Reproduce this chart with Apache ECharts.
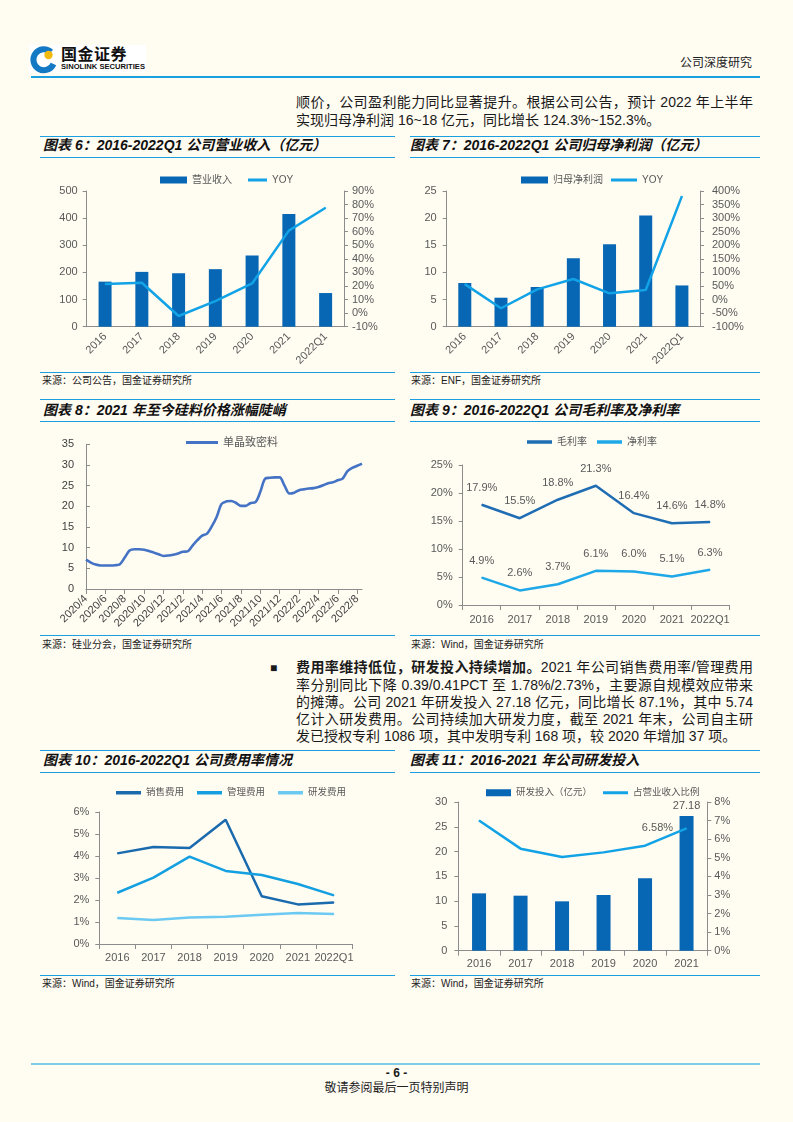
<!DOCTYPE html>
<html><head><meta charset="utf-8">
<script src="https://cdn.jsdelivr.net/npm/echarts@6/dist/echarts.min.js"></script>
<style>
html,body{margin:0;padding:0;background:#fffcf2;}
#page{position:relative;width:793px;height:1122px;background:#fffcf2;overflow:hidden;font-family:"Liberation Sans","Noto Sans CJK SC",sans-serif;color:#1a1a1a;}
.t{position:absolute;white-space:nowrap;line-height:16px;}
.hl{position:absolute;height:0;border-top:1.5px solid #1a9fe0;}
.ct{position:absolute;font-size:14px;font-weight:bold;font-style:italic;white-space:nowrap;line-height:16px;color:#111;}
.src{position:absolute;font-size:10px;white-space:nowrap;line-height:12px;color:#222;}
.chart{position:absolute;left:0;top:0;width:793px;height:1122px;}
.pl{position:absolute;left:296px;width:457px;font-size:14px;line-height:17px;text-align:justify;text-align-last:justify;white-space:nowrap;}
.pl.last{text-align-last:left;}
</style></head>
<body><div id="page">
<!-- header -->
<div style="position:absolute;left:29px;top:45px;width:117px;height:28px;background:#fff;"></div>
<svg style="position:absolute;left:29px;top:45px" width="30" height="30" viewBox="0 0 30 30">
  <path d="M22 7 A10.5 10.5 0 1 0 24.5 19" fill="none" stroke="#1479c4" stroke-width="6"/>
  <circle cx="19.5" cy="10" r="4.2" fill="#f2b90f"/>
  <rect x="10" y="12" width="6" height="8" fill="#fff"/>
</svg>
<div class="t" style="left:61px;top:47px;font-size:16px;font-weight:bold;color:#111;letter-spacing:0.5px;">国金证券</div>
<div class="t" style="left:61px;top:62px;font-size:7.6px;font-weight:bold;color:#111;line-height:10px;">SINOLINK SECURITIES</div>
<div class="t" style="left:680px;top:55px;font-size:12px;color:#222;">公司深度研究</div>
<div class="hl" style="left:31px;top:76px;width:729px;border-top:2px solid #1a9fe0;"></div>

<div class="pl" style="top:94px;">顺价，公司盈利能力同比显著提升。根据公司公告，预计 2022 年上半年</div>
<div class="pl last" style="top:112px;">实现归母净利润 16~18 亿元，同比增长 124.3%~152.3%。</div>

<!-- row 1 -->
<div class="hl" style="left:40px;top:136px;width:355px;"></div>
<div class="hl" style="left:40px;top:157px;width:355px;"></div>
<div class="ct" style="left:43px;top:137px;">图表 6：2016-2022Q1 公司营业收入（亿元）</div>
<div class="hl" style="left:410px;top:136px;width:350px;"></div>
<div class="hl" style="left:410px;top:157px;width:350px;"></div>
<div class="ct" style="left:410px;top:137px;">图表 7：2016-2022Q1 公司归母净利润（亿元）</div>
<div class="hl" style="left:40px;top:372px;width:355px;"></div>
<div class="src" style="left:42px;top:375px;">来源：公司公告，国金证券研究所</div>
<div class="hl" style="left:410px;top:372px;width:350px;"></div>
<div class="src" style="left:411px;top:375px;">来源：ENF，国金证券研究所</div>

<!-- row 2 -->
<div class="hl" style="left:40px;top:399px;width:355px;"></div>
<div class="hl" style="left:40px;top:421px;width:355px;"></div>
<div class="ct" style="left:43px;top:402px;">图表 8：2021 年至今硅料价格涨幅陡峭</div>
<div class="hl" style="left:410px;top:399px;width:350px;"></div>
<div class="hl" style="left:410px;top:421px;width:350px;"></div>
<div class="ct" style="left:410px;top:402px;">图表 9：2016-2022Q1 公司毛利率及净利率</div>
<div class="hl" style="left:40px;top:635px;width:355px;"></div>
<div class="src" style="left:42px;top:639px;">来源：硅业分会，国金证券研究所</div>
<div class="hl" style="left:410px;top:635px;width:350px;"></div>
<div class="src" style="left:411px;top:639px;">来源：Wind，国金证券研究所</div>

<!-- paragraph -->
<div class="t" style="left:270px;top:660px;font-size:12px;">■</div>
<div class="pl" style="top:659px;"><b>费用率维持低位，研发投入持续增加。</b>2021 年公司销售费用率/管理费用</div>
<div class="pl" style="top:677px;">率分别同比下降 0.39/0.41PCT 至 1.78%/2.73%，主要源自规模效应带来</div>
<div class="pl" style="top:694px;">的摊薄。公司 2021 年研发投入 27.18 亿元，同比增长 87.1%，其中 5.74</div>
<div class="pl" style="top:711px;">亿计入研发费用。公司持续加大研发力度，截至 2021 年末，公司自主研</div>
<div class="pl last" style="top:728px;">发已授权专利 1086 项，其中发明专利 168 项，较 2020 年增加 37 项。</div>

<!-- row 3 -->
<div class="hl" style="left:40px;top:750px;width:355px;"></div>
<div class="hl" style="left:40px;top:772px;width:355px;"></div>
<div class="ct" style="left:43px;top:752px;">图表 10：2016-2022Q1 公司费用率情况</div>
<div class="hl" style="left:410px;top:750px;width:350px;"></div>
<div class="hl" style="left:410px;top:772px;width:350px;"></div>
<div class="ct" style="left:410px;top:752px;">图表 11：2016-2021 年公司研发投入</div>
<div class="hl" style="left:40px;top:975px;width:355px;"></div>
<div class="src" style="left:42px;top:978px;">来源：Wind，国金证券研究所</div>
<div class="hl" style="left:410px;top:975px;width:350px;"></div>
<div class="src" style="left:411px;top:978px;">来源：Wind，国金证券研究所</div>

<!-- footer -->
<div class="hl" style="left:31px;top:1063px;width:729px;border-top:2.5px solid #7fcbe8;"></div>
<div class="t" style="left:0;width:793px;text-align:center;top:1065px;font-size:12px;font-weight:bold;">- 6 -</div>
<div class="t" style="left:0;width:793px;text-align:center;top:1080px;font-size:12px;color:#222;">敬请参阅最后一页特别声明</div>
</div>
<script>
// ---------- data ----------
const years7 = ['2016','2017','2018','2019','2020','2021','2022Q1'];
const years6 = ['2016','2017','2018','2019','2020','2021'];
const revenue = [166, 202, 197, 212, 262, 415, 124];
const revenueYoy = [21.4, 22.4, -2.1, 8.9, 21.9, 60.8, 77.7];
const netProfit = [8.05, 5.34, 7.31, 12.6, 15.2, 20.5, 7.6];
const netProfitYoy = [57, -32, 37.6, 75.7, 23, 35, 381];
const priceDates = ['2020/4/1','2020/4/16','2020/5/1','2020/5/16','2020/6/1','2020/6/16','2020/7/1','2020/7/16','2020/8/1','2020/8/16','2020/9/1','2020/9/16','2020/10/1','2020/10/16','2020/11/1','2020/11/16','2020/12/1','2020/12/16',
 '2021/1/1','2021/1/16','2021/2/1','2021/2/16','2021/3/1','2021/3/16','2021/4/1','2021/4/16','2021/5/1','2021/5/16','2021/6/1','2021/6/16','2021/7/1','2021/7/16','2021/8/1','2021/8/16','2021/9/1','2021/9/16','2021/10/1','2021/10/16','2021/11/1','2021/11/16','2021/12/1','2021/12/16',
 '2022/1/1','2022/1/16','2022/2/1','2022/2/16','2022/3/1','2022/3/16','2022/4/1','2022/4/16','2022/5/1','2022/5/16','2022/6/1','2022/6/16','2022/7/1','2022/7/16','2022/8/1','2022/8/16'];
const monoDensePrice = [7.1,6.4,5.9,5.7,5.7,5.7,5.75,6.0,7.6,9.3,9.6,9.6,9.5,9.2,8.8,8.4,8.0,8.1,
 8.3,8.6,9.0,9.1,10.5,11.8,12.9,13.4,15.2,17.5,20.6,21.2,21.3,20.8,20.1,20.1,20.8,21.0,23.5,26.7,26.9,27.0,27.0,25.0,
 23.1,23.3,23.9,24.1,24.3,24.4,24.7,25.1,25.6,25.8,26.3,26.7,28.5,29.3,29.8,30.3];
const grossMargin = [17.9, 15.5, 18.8, 21.3, 16.4, 14.6, 14.8];
const netMargin = [4.9, 2.6, 3.7, 6.1, 6.0, 5.1, 6.3];
const sellingExp = [4.12, 4.41, 4.36, 5.65, 2.17, 1.80, 1.89];
const adminExp = [2.33, 3.02, 3.97, 3.32, 3.14, 2.73, 2.21];
const rdExp = [1.18, 1.09, 1.21, 1.24, 1.33, 1.41, 1.36];
const rdInvest = [11.57, 11.1, 9.96, 11.24, 14.6, 27.18];
const rdRatio = [7.0, 5.49, 5.04, 5.29, 5.65, 6.58];

// ---------- styles ----------
const FF = '"Liberation Sans","Noto Sans CJK SC",sans-serif';
const TX = '#595959', AX = '#8c8c8c';
const BAR = '#0767b4', LIGHT = '#12a2e6';

function mk(opt){
  const d = document.createElement('div'); d.className = 'chart';
  document.getElementById('page').appendChild(d);
  const c = echarts.init(d, null, {renderer:'canvas'});
  opt.animation = false;
  opt.textStyle = {fontFamily: FF};
  c.setOption(opt);
}
function grid(l,t,r,b){ return {left:l, top:t, width:r-l, height:b-t, containLabel:false, outerBoundsMode:'none'}; }
function vAxis(min,max,iv,opts){
  opts = opts || {};
  return {type:'value', min:min, max:max, interval:iv, position:opts.pos||'left',
    splitLine:{show:false},
    axisLine:{show:true, lineStyle:{color:AX, width:1}},
    axisTick:{show:true, inside:!!opts.inside, length:4, lineStyle:{color:AX}},
    axisLabel:{color:opts.color||TX, fontSize:11, fontFamily:FF, margin:opts.margin||8, formatter:opts.fmt||'{value}'}};
}
function cAxis(data,opts){
  opts = opts || {};
  return {type:'category', data:data, boundaryGap: opts.bg!==false,
    axisLine:{show:true, lineStyle:{color:AX}},
    axisTick:{show:!!opts.tick, length:5, interval:opts.tickIv===undefined?'auto':opts.tickIv, lineStyle:{color:AX}},
    axisLabel:{color:opts.color||TX, fontSize:11, fontFamily:FF, rotate:opts.rot||0, margin:opts.margin||8, interval:opts.iv===undefined?0:opts.iv, formatter:opts.fmt}};
}
function legend(left, top, names, gap, iw, ih, fs){
  return {left:left, top:top, itemGap:gap, itemWidth:iw, itemHeight:ih, icon:'rect',
    data:names, textStyle:{color:TX, fontSize:fs||10, fontFamily:FF}};
}
function lineS(name, data, color, extra){
  return Object.assign({name:name, type:'line', data:data, symbol:'circle', symbolSize:1, showSymbol:true,
    lineStyle:{color:color, width:2.5}, itemStyle:{color:color}, z:5}, extra||{});
}

// Chart 6
mk({
  legend: [legend(155, 170, ['营业收入'], 20, 27, 7), legend(243, 170, ['YOY'], 10, 19, 3)],
  grid: grid(86.7, 191, 344, 326.7),
  xAxis: cAxis(years7, {rot:45, margin:8}),
  yAxis: [vAxis(0,500,100,{margin:9}), vAxis(-10,90,10,{pos:'right', fmt:'{value}%', margin:8})],
  series: [
    {name:'营业收入', type:'bar', data:revenue, barWidth:13, itemStyle:{color:BAR}},
    lineS('YOY', revenueYoy, LIGHT, {yAxisIndex:1})
  ]
});
// Chart 7
mk({
  legend: [legend(516, 170, ['归母净利润'], 12, 27, 7), legend(606, 170, ['YOY'], 10, 26, 3)],
  grid: grid(446.7, 191, 700, 326.7),
  xAxis: cAxis(years7, {rot:45, margin:8}),
  yAxis: [vAxis(0,25,5,{margin:10}), vAxis(-100,400,50,{pos:'right', fmt:'{value}%', margin:12})],
  series: [
    {name:'归母净利润', type:'bar', data:netProfit, barWidth:13, itemStyle:{color:BAR}},
    lineS('YOY', netProfitYoy, LIGHT, {yAxisIndex:1})
  ]
});
// Chart 8
mk({
  legend: legend(181, 432, ['单晶致密料'], 10, 32, 3, 11),
  grid: grid(86, 444.3, 362, 589),
  xAxis: cAxis(priceDates, {bg:false, rot:45, iv:3, tick:true, tickIv:3, color:'#404040', margin:8,
    fmt: v => v.split('/').slice(0,2).join('/')}),
  yAxis: vAxis(0,35,5,{margin:12, inside:true, color:'#404040'}),
  series: [lineS('单晶致密料', monoDensePrice, '#4472c4', {symbol:'none', smooth:0.3, lineStyle:{color:'#4472c4', width:2.6}})]
});
// Chart 9
const lbl9 = {show:true, position:'top', distance:11, color:TX, fontSize:11, fontFamily:FF, formatter: p => p.value.toFixed(1)+'%'};
mk({
  legend: legend(522, 432, ['毛利率','净利率'], 10, 25, 3.5),
  grid: grid(462.7, 465, 729, 605),
  xAxis: cAxis(years7, {tick:true, margin:9}),
  yAxis: vAxis(0,25,5,{fmt:'{value}%', margin:10}),
  series: [
    lineS('毛利率', grossMargin, '#1f6db3', {label:lbl9}),
    lineS('净利率', netMargin, '#1fa8e8', {label:lbl9})
  ]
});
// Chart 10
mk({
  legend: legend(111, 783, ['销售费用','管理费用','研发费用'], 13, 25, 3.5, 9.5),
  grid: grid(99.3, 812, 352, 944),
  xAxis: cAxis(years7, {tick:true, margin:8}),
  yAxis: vAxis(0,6,1,{fmt:'{value}%', margin:10}),
  series: [
    lineS('销售费用', sellingExp, '#1a6aae'),
    lineS('管理费用', adminExp, '#14a0e0'),
    lineS('研发费用', rdExp, '#6ccaf2')
  ]
});
// Chart 11
mk({
  legend: [legend(481, 783, ['研发投入（亿元）'], 20, 25, 7, 9.5), legend(598, 783, ['占营业收入比例'], 10, 25, 3, 9.5)],
  grid: grid(458.3, 802, 707.3, 950.7),
  xAxis: cAxis(years6, {tick:true, margin:8}),
  yAxis: [vAxis(0,30,5,{margin:11}), vAxis(0,8,1,{pos:'right', fmt:'{value}%', margin:7})],
  series: [
    {name:'研发投入（亿元）', type:'bar', data:rdInvest, barWidth:14, itemStyle:{color:BAR},
      label:{show:true, position:'top', distance:5, color:TX, fontSize:11, fontFamily:FF, formatter: p => p.dataIndex===rdInvest.length-1 ? String(p.value) : ''}},
    lineS('占营业收入比例', rdRatio, LIGHT, {yAxisIndex:1,
      label:{show:true, position:'left', distance:13, color:TX, fontSize:11, fontFamily:FF, formatter: p => p.dataIndex===rdRatio.length-1 ? p.value.toFixed(2)+'%' : ''}})
  ]
});
</script>
</body></html>
